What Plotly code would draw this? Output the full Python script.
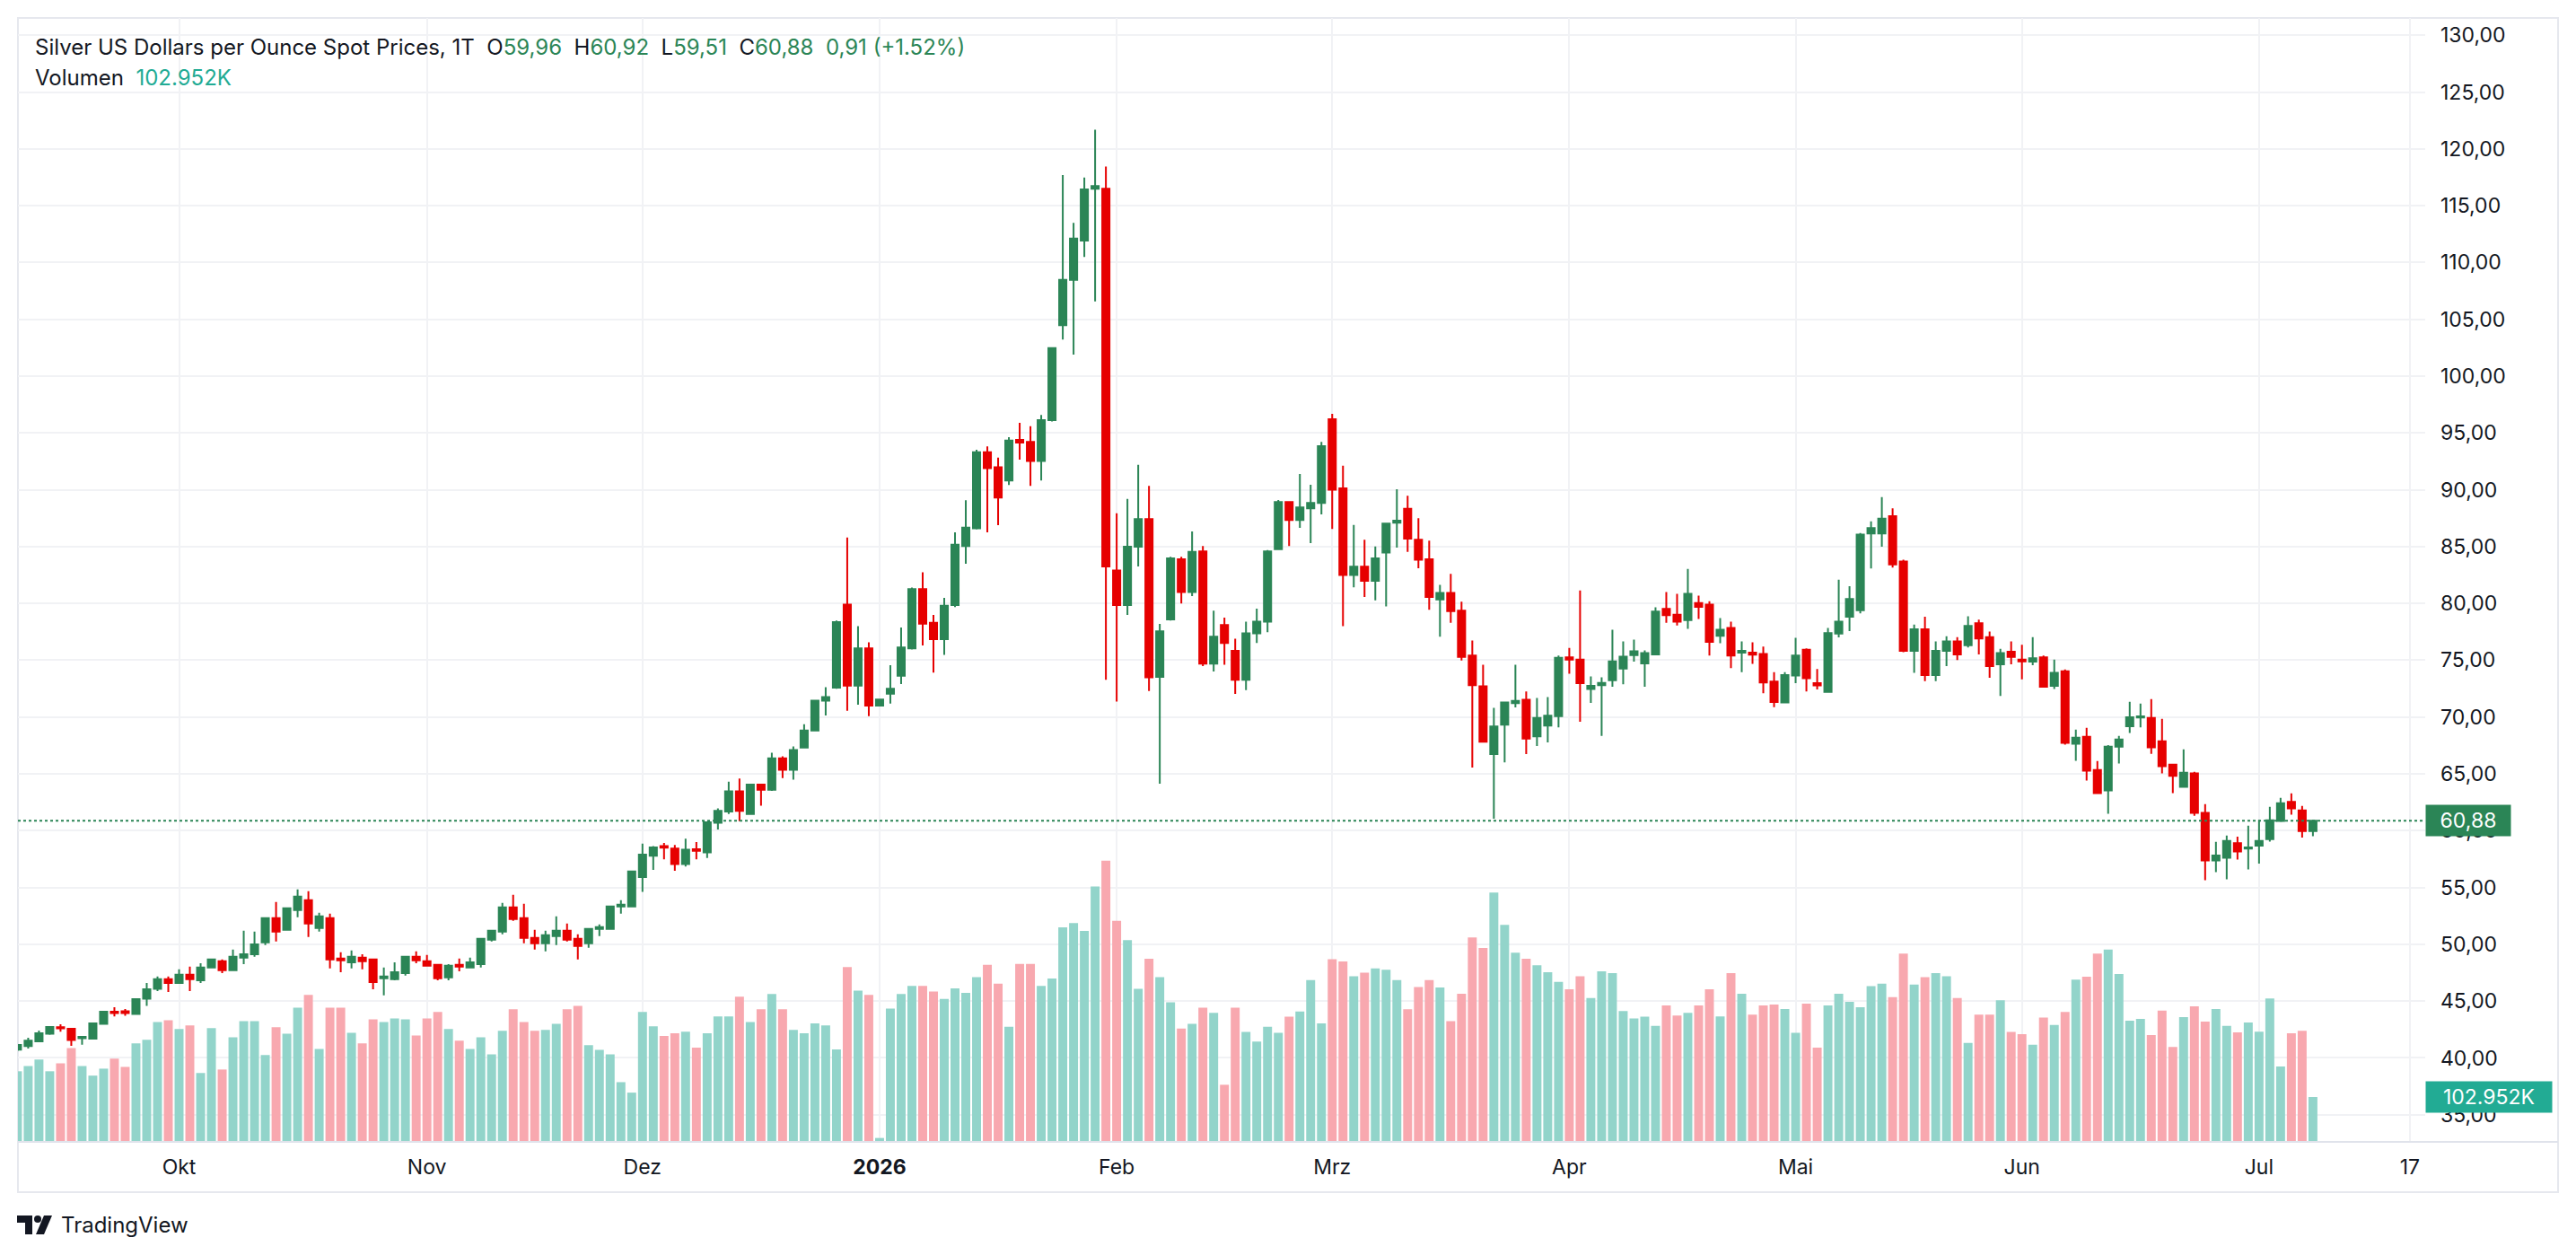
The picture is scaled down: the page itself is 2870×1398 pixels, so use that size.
import numpy as np
import pandas as pd
import plotly.graph_objects as go

# ---------------- data ----------------
holidays = pd.to_datetime(["2025-12-25", "2026-04-03"])
dates = pd.bdate_range("2025-09-10", "2026-07-08")
dates = dates[~dates.isin(holidays)]

opens = [40.72, 41.04, 41.46, 42.12, 42.70, 42.57, 41.73, 41.70, 42.99, 44.07,
         44.10, 43.86, 45.21, 46.08, 46.92, 46.60, 47.32, 46.84, 47.95, 48.50,
         47.71, 48.82, 49.13, 50.16, 52.30, 51.27, 53.01, 53.88, 51.43, 52.30,
         48.74, 48.42, 48.82, 48.66, 47.00, 46.92, 47.47, 48.90, 48.50, 48.19,
         47.08, 48.19, 47.95, 48.26, 50.40, 51.11, 53.25, 52.30, 50.56, 50.08,
         50.72, 51.19, 50.48, 50.08, 51.35, 51.35, 53.33, 53.32, 55.91, 57.80,
         58.64, 58.43, 57.06, 58.36, 58.08, 60.70, 61.68, 63.46, 61.47, 64.06,
         63.60, 66.36, 65.35, 67.31, 68.81, 71.43, 72.59, 79.90, 72.76, 76.05,
         71.01, 72.06, 73.64, 76.05, 81.26, 78.29, 76.85, 79.85, 85.04, 86.60,
         93.30, 91.97, 90.81, 94.39, 94.22, 92.54, 96.12, 104.49, 108.47, 111.93,
         116.49, 116.49, 82.90, 79.85, 84.99, 87.41, 73.53, 78.58, 83.88, 80.99,
         84.57, 74.70, 78.10, 75.82, 73.28, 77.37, 78.40, 84.78, 88.92, 87.33,
         88.36, 88.84, 96.20, 90.13, 82.50, 83.23, 81.98, 84.48, 87.11, 88.32,
         85.60, 83.88, 80.34, 80.91, 79.35, 75.40, 72.70, 66.73, 69.32, 71.22,
         71.52, 68.29, 69.24, 70.08, 75.25, 75.06, 72.47, 72.81, 73.23, 74.26,
         75.44, 74.71, 75.51, 79.51, 79.01, 78.52, 80.04, 79.89, 77.15, 77.83,
         75.67, 75.67, 75.55, 73.12, 71.29, 73.65, 75.93, 72.97, 72.20, 77.34,
         78.82, 79.39, 86.16, 86.16, 87.68, 83.69, 75.82, 77.72, 73.69, 75.82,
         76.65, 76.31, 78.25, 77.03, 74.64, 75.74, 75.06, 74.87, 75.25, 72.74,
         74.03, 67.65, 68.26, 65.33, 63.54, 67.39, 69.18, 69.95, 69.92, 67.87,
         65.81, 63.86, 65.04, 61.57, 57.37, 57.61, 58.90, 58.43, 58.69, 59.25,
         60.85, 62.54, 61.78, 59.96]
highs = [41.20, 41.78, 42.41, 42.78, 42.96, 42.65, 41.94, 43.08, 44.10, 44.47,
         44.31, 45.22, 46.60, 47.16, 47.16, 47.79, 48.03, 48.34, 48.74, 48.66,
         49.53, 51.19, 51.11, 52.38, 53.72, 53.20, 54.83, 54.67, 52.77, 52.70,
         49.29, 49.45, 49.13, 48.70, 47.95, 48.42, 48.98, 49.37, 49.06, 48.26,
         48.26, 48.74, 48.82, 50.56, 51.23, 53.64, 54.36, 53.57, 51.27, 51.19,
         52.46, 51.82, 50.88, 51.43, 51.75, 53.41, 53.88, 56.47, 58.85, 58.64,
         58.92, 58.74, 59.30, 58.99, 60.75, 61.96, 64.30, 64.58, 64.13, 64.13,
         66.85, 66.54, 67.41, 69.37, 71.50, 72.62, 78.50, 85.80, 78.00, 76.57,
         71.60, 74.55, 77.87, 81.40, 82.73, 78.98, 80.48, 86.26, 89.08, 93.53,
         93.81, 92.83, 94.62, 95.89, 95.60, 96.58, 102.53, 117.70, 113.49, 117.47,
         121.69, 118.45, 87.93, 89.20, 92.20, 90.35, 78.19, 84.10, 84.10, 86.34,
         85.04, 79.35, 78.75, 76.90, 78.40, 79.53, 84.70, 89.10, 89.00, 91.38,
         90.43, 94.22, 96.68, 92.11, 86.90, 85.60, 85.00, 87.11, 90.04, 89.48,
         87.50, 85.52, 81.63, 82.59, 80.15, 76.73, 74.60, 70.80, 71.37, 74.60,
         72.24, 71.67, 71.75, 75.40, 76.08, 81.14, 73.57, 73.50, 77.68, 76.65,
         76.81, 75.86, 79.66, 80.99, 80.84, 83.04, 80.68, 80.19, 78.71, 78.40,
         76.65, 76.58, 76.20, 73.95, 73.95, 76.96, 76.05, 74.22, 77.83, 82.09,
         81.52, 86.20, 87.22, 89.35, 88.37, 83.84, 78.14, 78.82, 76.65, 77.11,
         77.03, 78.86, 78.56, 77.53, 76.00, 76.65, 76.35, 77.03, 75.40, 75.06,
         74.18, 68.89, 69.05, 66.13, 67.52, 68.34, 71.34, 71.19, 71.58, 69.84,
         65.85, 67.15, 65.18, 62.33, 59.01, 59.56, 59.48, 60.43, 60.96, 62.09,
         62.88, 63.28, 62.17, 60.92]
lows = [40.60, 40.83, 41.38, 42.04, 42.30, 41.07, 41.17, 41.62, 42.95, 43.65,
        43.70, 43.78, 44.57, 45.89, 45.81, 46.55, 45.89, 46.60, 47.90, 47.47,
        47.66, 48.26, 48.90, 49.93, 50.24, 51.22, 52.38, 50.64, 51.11, 47.87,
        47.55, 47.87, 47.79, 46.05, 45.50, 46.84, 47.24, 48.34, 48.03, 46.84,
        46.84, 47.63, 47.90, 47.95, 50.24, 50.88, 52.06, 50.08, 49.53, 49.37,
        49.93, 50.24, 48.66, 49.69, 50.72, 51.27, 52.70, 53.30, 54.62, 56.54,
        57.48, 56.47, 56.85, 57.48, 57.59, 60.10, 61.47, 60.84, 61.42, 62.20,
        63.50, 64.62, 64.48, 67.24, 68.76, 70.14, 72.48, 70.56, 71.08, 70.07,
        70.94, 71.19, 72.90, 75.94, 76.29, 73.90, 75.46, 79.68, 83.49, 86.50,
        86.26, 86.89, 90.41, 92.66, 90.35, 90.81, 96.00, 103.22, 101.90, 110.49,
        106.57, 73.27, 71.37, 78.98, 83.25, 72.29, 64.14, 78.49, 80.00, 80.65,
        74.48, 74.00, 74.60, 72.03, 72.37, 76.51, 77.46, 84.70, 85.04, 86.64,
        85.30, 87.84, 86.55, 78.00, 81.42, 80.56, 80.26, 79.74, 84.91, 84.53,
        83.10, 79.44, 77.07, 78.29, 74.98, 65.55, 67.76, 61.06, 66.00, 70.84,
        66.73, 67.45, 67.76, 69.09, 73.80, 69.58, 71.25, 68.33, 72.66, 72.89,
        74.87, 72.66, 75.44, 78.29, 78.06, 77.76, 78.63, 75.40, 76.50, 74.30,
        73.95, 74.68, 72.09, 70.87, 71.22, 72.97, 72.24, 72.43, 72.15, 77.00,
        77.57, 79.13, 83.08, 84.98, 83.16, 75.70, 73.88, 73.16, 73.16, 74.49,
        75.02, 76.12, 75.51, 73.46, 71.86, 74.64, 73.31, 74.56, 72.60, 72.47,
        67.57, 66.15, 64.41, 63.25, 61.49, 65.91, 68.60, 69.08, 66.76, 65.04,
        63.31, 63.80, 61.30, 55.64, 56.35, 55.71, 57.45, 56.58, 57.11, 59.04,
        60.80, 61.41, 59.40, 59.51]
closes = [41.14, 41.51, 42.17, 42.73, 42.60, 41.57, 41.86, 43.04, 44.07, 43.94,
          43.94, 45.18, 46.05, 46.92, 46.60, 47.32, 46.92, 47.95, 48.66, 47.71,
          48.90, 49.13, 50.00, 52.30, 51.11, 53.17, 54.20, 51.82, 52.46, 48.66,
          48.58, 48.90, 48.50, 46.68, 47.16, 47.55, 48.90, 48.58, 48.11, 47.00,
          48.11, 48.03, 48.42, 50.48, 51.19, 53.25, 52.22, 50.56, 50.08, 50.80,
          51.19, 50.40, 49.85, 51.35, 51.51, 53.33, 53.49, 56.40, 57.90, 58.53,
          58.50, 57.06, 58.32, 58.22, 60.73, 61.75, 63.46, 61.75, 64.06, 63.60,
          66.36, 65.35, 67.10, 68.81, 71.43, 71.75, 78.36, 72.76, 76.05, 71.01,
          71.54, 72.48, 76.12, 81.26, 78.22, 76.85, 79.79, 85.16, 86.66, 93.30,
          91.91, 89.31, 94.33, 94.16, 92.54, 96.12, 102.47, 108.47, 112.10, 116.43,
          116.72, 83.25, 79.85, 84.99, 87.41, 73.50, 77.54, 83.97, 80.99, 84.53,
          74.70, 77.07, 76.51, 73.28, 77.37, 78.40, 84.57, 88.92, 87.33, 88.45,
          88.84, 93.84, 90.00, 82.50, 83.23, 81.98, 83.97, 87.03, 87.28, 85.69,
          83.84, 80.56, 80.91, 79.32, 75.29, 72.81, 67.83, 69.16, 71.29, 71.41,
          68.10, 69.92, 70.11, 75.21, 75.06, 72.97, 72.74, 73.00, 74.90, 75.32,
          75.78, 75.63, 79.28, 78.97, 78.40, 80.84, 79.70, 76.62, 77.68, 75.40,
          75.82, 75.48, 73.04, 71.33, 73.69, 75.40, 73.42, 72.78, 77.38, 78.40,
          80.38, 86.05, 86.62, 87.45, 83.42, 75.82, 77.72, 73.69, 75.82, 76.65,
          75.51, 78.02, 76.92, 74.49, 75.63, 75.29, 74.90, 75.17, 72.66, 73.88,
          67.72, 68.18, 65.28, 63.31, 67.39, 68.02, 69.97, 70.05, 67.34, 65.68,
          64.83, 65.10, 61.57, 57.37, 57.82, 59.09, 58.17, 58.53, 59.09, 60.91,
          62.41, 61.96, 59.97, 60.88]
volumes_k = [162, 174, 189, 162, 180, 215, 174, 152, 168, 191, 172, 226, 234, 275, 279,
             259, 267, 158, 261, 166, 240, 277, 277, 199, 263, 248, 308, 337, 213, 308,
             308, 250, 226, 281, 275, 283, 281, 244, 283, 298, 259, 232, 213, 240, 201,
             255, 304, 275, 255, 257, 271, 304, 312, 222, 211, 201, 137, 113,
             298, 265, 243, 249, 253, 216, 249, 288, 288, 333, 275, 304, 339, 304, 257,
             249, 272, 267, 212, 401, 347, 337, 9, 306, 339, 358, 358,
             345, 328, 352, 342, 378, 406, 363, 264, 408, 408, 358, 375, 492, 502, 484,
             586, 645, 507, 463, 351, 420,
             378, 320, 260, 271, 308, 296, 131, 308, 252, 230, 264, 250, 287, 299, 371,
             272, 419, 414, 380, 388, 398, 395, 371, 304, 355, 371,
             354, 277, 340, 469, 445, 572, 498, 434, 420, 405, 389, 367, 350, 380, 330,
             391, 387, 300, 283, 287, 266, 313, 290, 296, 313, 350, 288, 387, 340, 292,
             313, 315, 305, 250, 317,
             216, 313, 340, 321, 309, 357, 363, 332, 432, 361, 378, 387, 380, 330, 227,
             292, 292, 325, 252, 247, 223, 285, 268, 298,
             372, 379, 432, 441, 385, 278, 282, 245, 301, 218, 286, 311, 276, 305, 266,
             251, 274, 253, 329, 173, 249, 255, 102.952]

month_names = {10: "Okt", 11: "Nov", 12: "Dez", 1: "<b>2026</b>", 2: "Feb", 3: "Mrz",
               4: "Apr", 5: "Mai", 6: "Jun", 7: "Jul"}
future_tick_date = "2026-07-17"
future_tick_text = "17"
title_text = "Silver US Dollars per Ounce Spot Prices, 1T"

# ---------------- styling ----------------
W, H = 2870, 1398
ML, MR, MT, MB = 20, 168, 20, 126
PW, PH = W - ML - MR, H - MT - MB
GREEN = "#2B8556"
RED = "#E60000"
VOL_UP = "#92D4CA"
VOL_DN = "#F8A8AF"
TEAL = "#22AB94"
GRID = "#F1F2F5"
TXT = "#131722"
FONT = "Inter, Roboto, sans-serif"

def px(x):
    return (x - ML) / PW

def py(y):
    return (MT + PH - y) / PH

n = len(dates)
xpos = np.arange(n)
up = [c >= o for o, c in zip(opens, closes)]
vol_colors = [VOL_UP if u else VOL_DN for u in up]

# ticks at first trading day of each month (skip the partial first month)
tickvals, ticktext = [], []
prev_month = dates[0].month
for i, d in enumerate(dates):
    if d.month != prev_month:
        tickvals.append(i)
        ticktext.append(month_names[d.month])
    prev_month = d.month
tickvals.append(n - 1 + (pd.Timestamp(future_tick_date) - dates[-1]).days)
ticktext.append(future_tick_text)

fig = go.Figure()
fig.add_trace(go.Bar(x=xpos, y=volumes_k, marker=dict(color=vol_colors, line=dict(width=0)),
                     yaxis="y", hoverinfo="skip", showlegend=False))
fig.add_trace(go.Candlestick(
    x=xpos, open=opens, high=highs, low=lows, close=closes, yaxis="y2",
    increasing=dict(line=dict(color=GREEN, width=2), fillcolor=GREEN),
    decreasing=dict(line=dict(color=RED, width=2), fillcolor=RED),
    whiskerwidth=0, hoverinfo="skip", showlegend=False))

x_lo = -0.5 + 0.55
x_hi = x_lo + PW / 12.007

fig.update_layout(
    width=W, height=H, autosize=False,
    margin=dict(l=ML, r=MR, t=MT, b=MB, pad=0),
    paper_bgcolor="white", plot_bgcolor="white",
    separators=",.",
    font=dict(family=FONT, size=23, color=TXT),
    bargap=0.17, boxgap=0.33, boxgroupgap=0,
    xaxis=dict(range=[x_lo, x_hi], tickvals=tickvals, ticktext=ticktext,
               showgrid=True, gridcolor=GRID, gridwidth=2, zeroline=False,
               showline=False, ticks="", ticklabelstandoff=12,
               tickfont=dict(size=23, color=TXT), rangeslider=dict(visible=False),
               fixedrange=True),
    yaxis=dict(range=[0, 2578], visible=False, showgrid=False, zeroline=False,
               fixedrange=True),
    yaxis2=dict(range=[32.61, 131.52], overlaying="y", side="right", dtick=5, tick0=0,
                tickformat=".2f", showgrid=True, gridcolor=GRID, gridwidth=2,
                zeroline=False, showline=False, ticks="", ticklabelstandoff=16,
                tickfont=dict(size=23, color=TXT), fixedrange=True),
)

last_close = closes[-1]
prev_close = closes[-2]
chg = last_close - prev_close
pct = chg / prev_close * 100

def de(v):
    return f"{v:.2f}".replace(".", ",")

sp = "\u00a0\u00a0"
g = lambda s: f"<span style='color:{GREEN}'>{s}</span>"
row1 = (f"{title_text}{sp}O{g(de(opens[-1]))}{sp}H{g(de(highs[-1]))}{sp}L{g(de(lows[-1]))}"
        f"{sp}C{g(de(last_close))}{sp}{g(de(chg) + ' (+' + f'{pct:.2f}' + '%)')}")
vol_txt = f"{volumes_k[-1]:.3f}K"
row2 = f"Volumen{sp}<span style='color:{TEAL}'>{vol_txt}</span>"

ann = [
    dict(xref="paper", yref="paper", x=px(37), y=py(52), xanchor="left", yanchor="middle",
         text=row1, showarrow=False, font=dict(size=24, color=TXT)),
    dict(xref="paper", yref="paper", x=px(37), y=py(87), xanchor="left", yanchor="middle",
         text=row2, showarrow=False, font=dict(size=24, color=TXT)),
    dict(xref="paper", yref="y2", x=1.0, y=last_close, xanchor="left", yanchor="middle",
         text=de(last_close), showarrow=False, bgcolor=GREEN, font=dict(size=23, color="white"),
         width=90, height=30, borderpad=2, align="center"),
    dict(xref="paper", yref="y", x=1.0, y=volumes_k[-1], xanchor="left", yanchor="middle",
         text=vol_txt, showarrow=False, bgcolor=TEAL, font=dict(size=23, color="white"),
         width=136, height=30, borderpad=2, align="center"),
    dict(xref="paper", yref="paper", x=px(66), y=py(1364), xanchor="left", yanchor="middle",
         text="TradingView", showarrow=False, font=dict(size=24, color=TXT)),
]

shapes = [
    # last price dotted line
    dict(type="line", xref="paper", yref="y2", x0=0, x1=1, y0=last_close, y1=last_close,
         line=dict(color=GREEN, width=2, dash="dot")),
    # outer frame
    dict(type="rect", xref="paper", yref="paper", x0=px(20), x1=px(2850), y0=py(1328), y1=py(20),
         line=dict(color="#E6E8EE", width=2), layer="below"),
    # time scale top border
    dict(type="line", xref="paper", yref="paper", x0=px(20), x1=px(2850), y0=py(1272), y1=py(1272),
         line=dict(color="#E0E3EB", width=2)),
    # TradingView logo
    dict(type="path", xref="paper", yref="paper",
         path=(f"M {px(19)} {py(1354)} L {px(36)} {py(1354)} L {px(36)} {py(1375)} "
               f"L {px(28)} {py(1375)} L {px(28)} {py(1362)} L {px(19)} {py(1362)} Z"),
         fillcolor=TXT, line=dict(width=0)),
    dict(type="circle", xref="paper", yref="paper", x0=px(38), x1=px(46), y0=py(1362), y1=py(1354),
         fillcolor=TXT, line=dict(width=0)),
    dict(type="path", xref="paper", yref="paper",
         path=(f"M {px(49)} {py(1354)} L {px(58)} {py(1354)} L {px(49)} {py(1375)} "
               f"L {px(40)} {py(1375)} Z"),
         fillcolor=TXT, line=dict(width=0)),
]
fig.update_layout(annotations=ann, shapes=shapes)

fig.write_html("out.html", include_plotlyjs=True, config={"displayModeBar": False})
